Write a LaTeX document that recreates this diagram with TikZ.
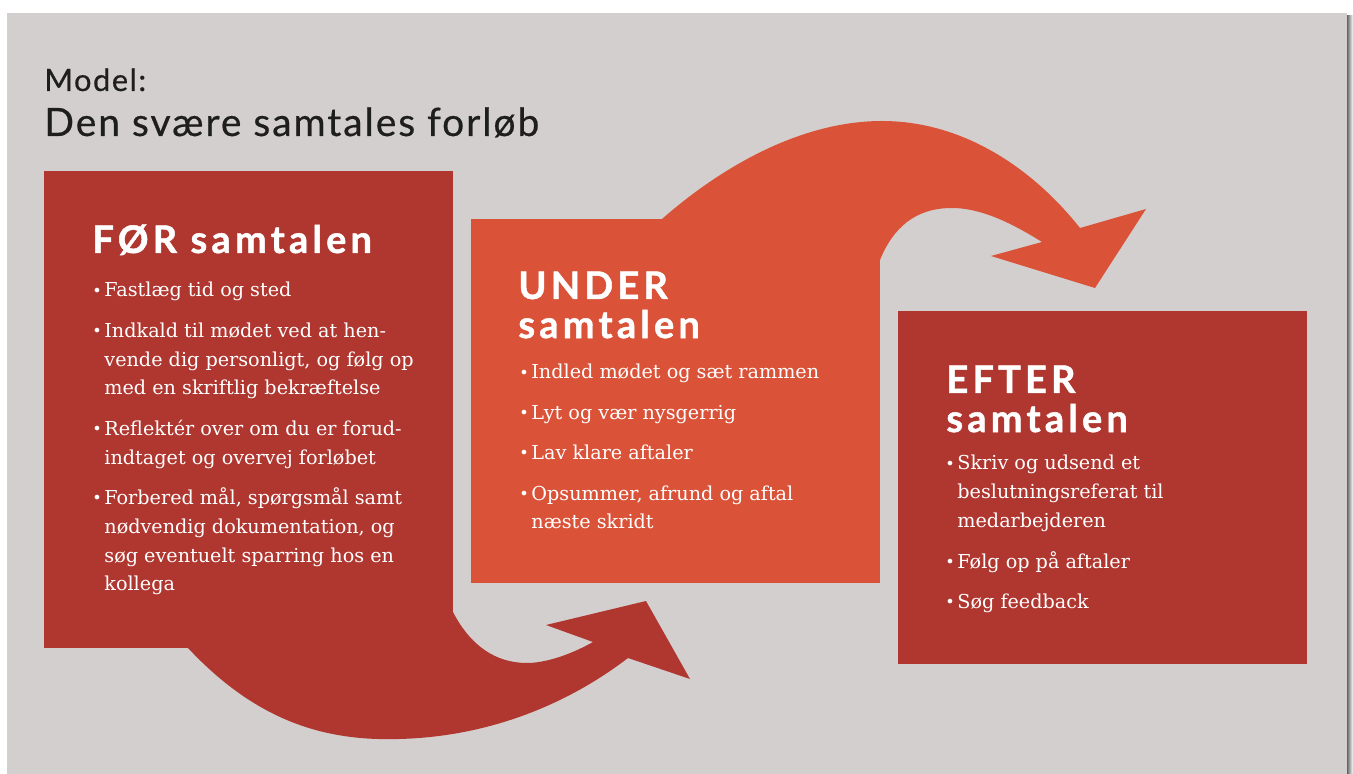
\documentclass[tikz,border=0pt]{standalone}
\usepackage{fontspec}
\setmainfont{DejaVu Serif}
\newfontfamily\kopfont[LetterSpace=11, BoldFeatures={FakeBold=1.2}]{Lato}
\newfontfamily\titelfont[LetterSpace=5, FakeBold=0.5]{Lato}
\usetikzlibrary{positioning, calc}

\definecolor{moerkerod}{HTML}{B03630}
\definecolor{orangerod}{HTML}{DA5339}
\definecolor{baggrund}{HTML}{D3CFCE}
\definecolor{tekstsort}{HTML}{1E1E1E}

\newcommand{\pkt}{\makebox[6pt][l]{\raisebox{0.4pt}{\footnotesize •}}}
\newcommand{\ind}{\hspace*{6pt}}
\newcommand{\linjer}[1]{\begin{tabular}[t]{@{}l@{}}#1\end{tabular}}

\tikzset{
    boks/.style={fill=#1, inner sep=0pt, anchor=north west, minimum width=204.5pt},
    titel/.style={anchor=base west, inner sep=0pt, text=tekstsort},
    overskrift/.style={anchor=base west, inner sep=0pt, text=white,
        font=\kopfont\bfseries\fontsize{19}{18}\selectfont},
    liste/.style={anchor=base west, inner sep=0pt, text=white,
        font=\fontsize{9.6}{14.4}\selectfont},
}

\begin{document}
\begin{tikzpicture}[x=0.5pt, y=-0.5pt]
    \useasboundingbox (0,0) rectangle (1353,774);
    \fill[baggrund] (7,13) rectangle (1347,774);
    \shade[left color=black!60, right color=white] (1347,16) rectangle (1353,774);

    % titel
    \node[titel, font=\titelfont\fontsize{15.4}{18}\selectfont] (model) at (44,91) {Model:};
    \node[titel, font=\titelfont\fontsize{19.5}{22}\selectfont] (titel) at (44,136) {Den svære samtales forløb};

    % kasser
    \node[boks=moerkerod, minimum height=238.5pt] (foer) at (44,171) {};
    \node[boks=orangerod, minimum height=182pt] (under) at (471,219) {};
    \node[boks=moerkerod, minimum height=176.5pt] (efter) at (898,311) {};

    % pil fra FØR til UNDER
    \fill[moerkerod] (188,648) .. controls (260,725) and (330,741) .. (399,739)
        .. controls (480,737) and (560,710) .. (628,658)
        -- (690,679) -- (646,601) -- (546,625) -- (593,642)
        .. controls (570,655) and (545,663) .. (527,663)
        .. controls (495,663) and (470,645) .. (453,612) -- cycle;

    % pil fra UNDER til EFTER
    \fill[orangerod] (662,219) .. controls (720,168) and (800,121) .. (882,121)
        .. controls (960,121) and (1030,165) .. (1080,228)
        -- (1146,209) -- (1095,288) -- (991,256) -- (1042,242)
        .. controls (1010,222) and (980,208) .. (952,208)
        .. controls (915,208) and (893,228) .. (880,260) -- cycle;

    % FØR samtalen
    \node[overskrift] (foerkop) at (92,253) {FØR samtalen};
    \node[liste] (foerliste) at (92,297) {\linjer{%
        \pkt Fastlæg tid og sted\\[5.8pt]
        \pkt Indkald til mødet ved at hen-\\
        \ind vende dig personligt, og følg op\\
        \ind med en skriftlig bekræftelse\\[5.8pt]
        \pkt Reflektér over om du er forud-\\
        \ind indtaget og overvej forløbet\\[5.8pt]
        \pkt Forbered mål, spørgsmål samt\\
        \ind nødvendig dokumentation, og\\
        \ind søg eventuelt sparring hos en\\
        \ind kollega}};

    % UNDER samtalen
    \node[overskrift] (underkop) at (518,299) {\linjer{UNDER\\samtalen}};
    \node[liste] (underliste) at (519,379) {\linjer{%
        \pkt Indled mødet og sæt rammen\\[5.8pt]
        \pkt Lyt og vær nysgerrig\\[5.8pt]
        \pkt Lav klare aftaler\\[5.8pt]
        \pkt Opsummer, afrund og aftal\\
        \ind næste skridt}};

    % EFTER samtalen
    \node[overskrift] (efterkop) at (946,393) {\linjer{EFTER\\samtalen}};
    \node[liste] (efterliste) at (945,470) {\linjer{%
        \pkt Skriv og udsend et\\
        \ind beslutningsreferat til\\
        \ind medarbejderen\\[5.8pt]
        \pkt Følg op på aftaler\\[5.8pt]
        \pkt Søg feedback}};
\end{tikzpicture}
\end{document}
